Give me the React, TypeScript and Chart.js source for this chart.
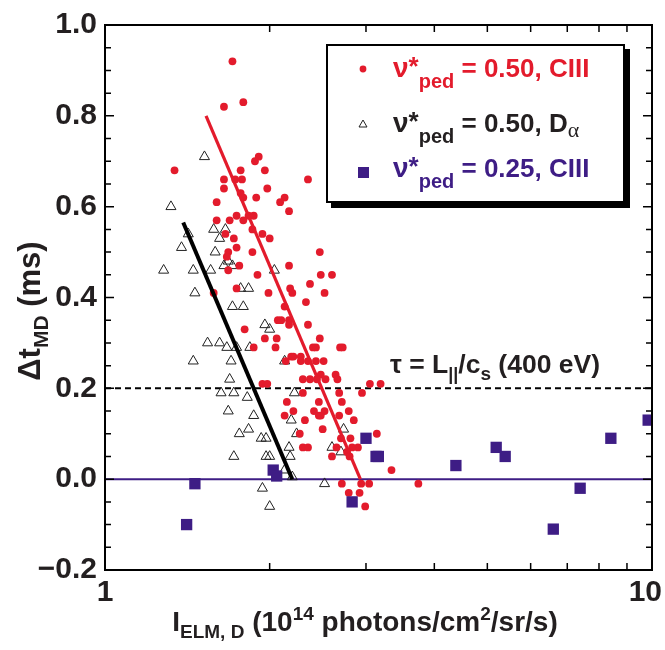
import React, { useEffect, useRef } from 'react';
import { Chart, registerables } from 'chart.js';

Chart.register(...registerables);

const FONT = "'Liberation Sans', Arial, Helvetica, sans-serif";
const RED = '#e31b2c';
const PURPLE = '#3e1d85';
const INK = '#231f20';

// axes
const xLabelValues = [1, 10];
const xMinorTicks = [2, 3, 4, 5, 6, 7, 8, 9];
const yMin = -0.2;
const yMax = 1.0;
const yStep = 0.2;
const yMinorStep = 0.05;

// nu*ped = 0.50, CIII (red circles)
const redX = [1.71, 1.79, 1.65, 1.34, 1.91, 1.88, 1.96, 1.77, 1.65, 1.78, 1.73, 1.65, 1.98, 2.35, 1.77, 1.79, 1.89, 2.13, 2.09, 2.17,
  1.60, 1.74, 1.83, 1.87, 1.79, 1.60, 1.69, 1.86, 1.94, 1.66, 1.72, 2.00, 1.74, 1.68, 1.86, 2.47, 1.67, 1.76, 1.68, 2.17,
  1.90, 2.48, 2.60, 2.37, 2.18, 1.74, 1.99, 2.20, 2.52, 1.58, 2.33, 2.13, 2.07, 2.10, 2.17, 2.17, 2.35, 1.80, 1.96, 2.06,
  2.47, 1.87, 2.05, 2.40, 2.43, 2.69, 2.72, 2.19, 2.21, 2.28, 2.14, 2.28, 2.35, 2.43, 2.51, 2.48, 2.64, 2.30, 2.37, 2.44,
  2.53, 2.66, 1.94, 1.98, 3.05, 3.19, 2.30, 2.68, 2.95, 2.15, 2.46, 2.71, 2.21, 2.41, 2.52, 2.79, 2.13, 2.46, 2.48, 2.68,
  2.32, 2.85, 2.50, 3.14, 2.27, 2.70, 2.81, 2.30, 2.35, 2.65, 2.90, 2.83, 2.77, 2.80, 2.60, 3.34, 2.71, 2.94, 3.04, 3.74,
  2.79, 2.92, 2.99];
const redY = [0.92, 0.83, 0.82, 0.68, 0.71, 0.70, 0.68, 0.68, 0.66, 0.66, 0.66, 0.64, 0.64, 0.66, 0.63, 0.62, 0.62, 0.62, 0.61, 0.59,
  0.61, 0.58, 0.58, 0.58, 0.57, 0.57, 0.57, 0.55, 0.54, 0.54, 0.53, 0.53, 0.51, 0.50, 0.50, 0.50, 0.49, 0.47, 0.46, 0.47,
  0.45, 0.45, 0.45, 0.43, 0.42, 0.42, 0.41, 0.41, 0.41, 0.41, 0.39, 0.38, 0.35, 0.35, 0.35, 0.34, 0.34, 0.33, 0.31, 0.31,
  0.31, 0.29, 0.29, 0.29, 0.29, 0.29, 0.29, 0.27, 0.27, 0.27, 0.26, 0.26, 0.26, 0.26, 0.26, 0.23, 0.23, 0.22, 0.22, 0.22,
  0.22, 0.22, 0.21, 0.21, 0.21, 0.21, 0.19, 0.19, 0.19, 0.17, 0.17, 0.17, 0.15, 0.15, 0.15, 0.15, 0.14, 0.14, 0.14, 0.14,
  0.13, 0.13, 0.11, 0.10, 0.10, 0.09, 0.09, 0.07, 0.07, 0.07, 0.07, 0.07, 0.06, 0.05, 0.05, 0.02, -0.01, -0.01, -0.01, -0.01,
  -0.03, -0.03, -0.06];

// nu*ped = 0.50, D-alpha (open triangles)
const triX = [1.52, 1.32, 1.58, 1.66, 1.42, 1.62, 1.38, 1.59, 1.68, 1.65, 1.71, 1.28, 1.45, 1.56, 2.04, 1.77, 1.83, 1.46, 1.71, 1.79,
  1.96, 2.00, 1.54, 1.62, 1.67, 1.74, 1.84, 1.45, 1.70, 2.13, 1.69, 1.63, 1.72, 2.22, 1.82, 1.68, 1.87, 2.19, 1.83, 2.73,
  1.76, 2.24, 1.93, 1.97, 2.17, 2.60, 2.70, 1.72, 1.97, 2.00, 2.18, 2.13, 2.20, 2.52, 1.94, 2.00];
const triY = [0.71, 0.60, 0.55, 0.55, 0.54, 0.53, 0.51, 0.50, 0.48, 0.47, 0.47, 0.46, 0.46, 0.46, 0.46, 0.42, 0.42, 0.41, 0.38, 0.38,
  0.34, 0.33, 0.30, 0.30, 0.29, 0.29, 0.29, 0.26, 0.26, 0.26, 0.22, 0.19, 0.19, 0.19, 0.18, 0.15, 0.14, 0.13, 0.11, 0.11,
  0.10, 0.10, 0.09, 0.09, 0.07, 0.07, 0.06, 0.05, 0.05, 0.05, 0.05, 0.02, 0.005, -0.01, -0.02, -0.06];

// nu*ped = 0.25, CIII (purple squares)
const sqX = [1.41, 1.46, 2.03, 2.06, 3.00, 3.13, 3.16, 2.83, 4.38, 5.19, 5.39, 6.60, 7.39, 8.41, 9.84];
const sqY = [-0.10, -0.01, 0.02, 0.007, 0.09, 0.05, 0.05, -0.05, 0.03, 0.07, 0.05, -0.11, -0.02, 0.09, 0.13];

// fit lines and reference levels
const redFitX = [1.53, 2.93];
const redFitY = [0.80, 0.0];
const blackFitX = [1.39, 2.2];
const blackFitY = [0.565, 0.0];
const refX = [1, 10];
const tauLevel = 0.2;
const zeroLevel = 0.0;

const pts = (xs: number[], ys: number[]) => xs.map((x, i) => ({ x, y: ys[i] }));

const framePlugin = {
  id: 'frameTicks',
  afterDatasetsDraw(chart: any) {
    const { ctx, chartArea: a, scales } = chart;
    const xs = scales.x;
    const ys = scales.y;
    ctx.save();
    ctx.strokeStyle = '#000';
    ctx.lineWidth = 2;
    ctx.strokeRect(a.left, a.top, a.right - a.left, a.bottom - a.top);
    ctx.lineWidth = 1.5;
    ctx.beginPath();
    const n = Math.round((yMax - yMin) / yMinorStep);
    const per = Math.round(yStep / yMinorStep);
    for (let k = 0; k <= n; k++) {
      const py = ys.getPixelForValue(yMin + k * yMinorStep);
      const len = k % per === 0 ? 9 : 6;
      ctx.moveTo(a.left, py);
      ctx.lineTo(a.left + len, py);
      ctx.moveTo(a.right, py);
      ctx.lineTo(a.right - len, py);
    }
    for (const v of xMinorTicks) {
      const px = xs.getPixelForValue(v);
      ctx.moveTo(px, a.bottom);
      ctx.lineTo(px, a.bottom - 7);
      ctx.moveTo(px, a.top);
      ctx.lineTo(px, a.top + 7);
    }
    ctx.stroke();

    // x tick labels (kept inside the canvas at the right edge)
    ctx.fillStyle = INK;
    ctx.font = `bold 30px ${FONT}`;
    ctx.textAlign = 'center';
    ctx.textBaseline = 'alphabetic';
    for (const v of xLabelValues) {
      const label = String(v);
      const w = ctx.measureText(label).width;
      let px = xs.getPixelForValue(v);
      px = Math.min(px, chart.width - 3 - w / 2);
      ctx.fillText(label, px, a.bottom + 31);
    }
    ctx.restore();
  },
};

const sub = (text: string, size: number, dy: number) => (
  <span style={{ position: 'relative', top: dy, fontSize: size, lineHeight: 0 }}>{text}</span>
);

function LegendText({ color, baseline, value, line }: { color: string; baseline: number; value: string; line: string }) {
  return (
    <div
      style={{
        position: 'absolute', left: 393, top: baseline - 22, color, fontFamily: FONT, fontWeight: 'bold',
        fontSize: 26, lineHeight: '26px', whiteSpace: 'nowrap',
      }}
    >
      <span style={{ fontSize: 28 }}>ν</span><span style={{ position: 'relative', top: -2 }}>*</span>
      {sub('ped', 20, 11)}
      {` = ${value}, `}
      {line}
    </div>
  );
}

export default function App() {
  const ref = useRef<HTMLCanvasElement>(null);

  useEffect(() => {
    const tickFont = { family: FONT, size: 30, weight: 'bold' as const };
    const chart = new Chart(ref.current as HTMLCanvasElement, {
      type: 'scatter',
      data: {
        datasets: [
          { label: 'red fit', data: pts(redFitX, redFitY), showLine: true, borderColor: RED, borderWidth: 3.2, pointRadius: 0, order: 0 } as any,
          { label: 'black fit', data: pts(blackFitX, blackFitY), showLine: true, borderColor: '#000', borderWidth: 4, pointRadius: 0, order: 1 },
          { label: 'ν*ped = 0.25, CIII', data: pts(sqX, sqY), pointStyle: 'rect', pointRadius: 8, backgroundColor: PURPLE, borderColor: PURPLE, borderWidth: 0, order: 2 },
          { label: 'ν*ped = 0.50, CIII', data: pts(redX, redY), pointStyle: 'circle', pointRadius: 3.9, backgroundColor: RED, borderColor: RED, borderWidth: 0, order: 3 },
          { label: 'ν*ped = 0.50, Dα', data: pts(triX, triY), pointStyle: 'triangle', pointRadius: 5.8, backgroundColor: 'rgba(255,255,255,0)', borderColor: '#222', borderWidth: 1, order: 4 },
          { label: 'tau', data: refX.map((x) => ({ x, y: tauLevel })), showLine: true, borderColor: '#000', borderWidth: 2, borderDash: [6, 4], pointRadius: 0, order: 5 },
          { label: 'zero', data: refX.map((x) => ({ x, y: zeroLevel })), showLine: true, borderColor: PURPLE, borderWidth: 2, pointRadius: 0, order: 6 },
        ],
      },
      options: {
        responsive: false,
        animation: false,
        devicePixelRatio: 1,
        layout: { padding: { top: 25, right: 13, bottom: 0, left: 0 } },
        plugins: { legend: { display: false }, tooltip: { enabled: false } },
        scales: {
          x: {
            type: 'logarithmic',
            min: 1,
            max: 10,
            grid: { display: false, drawTicks: false },
            border: { display: false },
            ticks: { display: false },
            afterFit: (s: any) => {
              s.height = 80;
              s.paddingLeft = 0;
              s.paddingRight = 0;
            },
          },
          y: {
            min: yMin,
            max: yMax,
            grid: { display: false, drawTicks: false },
            border: { display: false },
            ticks: {
              stepSize: yStep,
              padding: 8,
              color: INK,
              font: tickFont,
              callback: (v: any) => {
                const r = Math.round(Number(v) * 10) / 10;
                return r < 0 ? '−' + Math.abs(r).toFixed(1) : r.toFixed(1);
              },
            },
            afterFit: (s: any) => {
              s.width = 105;
              s.paddingTop = 0;
              s.paddingBottom = 0;
            },
          },
        },
      },
      plugins: [framePlugin],
    } as any);
    return () => chart.destroy();
  }, []);

  return (
    <div style={{ position: 'fixed', left: 0, top: 0, width: 665, height: 650, background: '#fff', overflow: 'hidden' }}>
      <canvas ref={ref} width={665} height={650} style={{ position: 'absolute', left: 0, top: 0, display: 'block' }} />

      {/* legend box */}
      <div
        style={{
          position: 'absolute', left: 326, top: 44, width: 299, height: 159, boxSizing: 'border-box',
          border: '2px solid #000', boxShadow: '5px 5px 0 #000', background: '#fff',
        }}
      />
      <svg width={665} height={650} style={{ position: 'absolute', left: 0, top: 0 }}>
        <circle cx={363} cy={69} r={3.4} fill={RED} />
        <polygon points="359,127 367,127 363,120" fill="none" stroke="#222" strokeWidth={1} />
        <rect x={358} y={167} width={11} height={11} fill={PURPLE} />
      </svg>
      <LegendText color={RED} baseline={77} value="0.50" line="CIII" />
      <div
        style={{
          position: 'absolute', left: 393, top: 132 - 22, color: INK, fontFamily: FONT, fontWeight: 'bold',
          fontSize: 26, lineHeight: '26px', whiteSpace: 'nowrap',
        }}
      >
        <span style={{ fontSize: 28 }}>ν</span><span style={{ position: 'relative', top: -2 }}>*</span>
        {sub('ped', 20, 11)}
        {' = 0.50, D'}
        <span style={{ position: 'relative', top: 5, fontSize: 22, lineHeight: 0, fontFamily: "'Liberation Serif', serif", fontWeight: 'normal' }}>α</span>
      </div>
      <LegendText color={PURPLE} baseline={177} value="0.25" line="CIII" />

      {/* tau annotation */}
      <div
        style={{
          position: 'absolute', left: 390, top: 373 - 22, color: INK, fontFamily: FONT, fontWeight: 'bold',
          fontSize: 26.5, lineHeight: '26px', whiteSpace: 'nowrap',
        }}
      >
        τ = L{sub('||', 18, 7)}/c{sub('s', 19, 7)} (400 eV)
      </div>

      {/* x title */}
      <div
        style={{
          position: 'absolute', left: 365, top: 632 - 24, transform: 'translateX(-50%)', color: INK, fontFamily: FONT,
          fontWeight: 'bold', fontSize: 28, lineHeight: '28px', whiteSpace: 'nowrap',
        }}
      >
        I{sub('ELM, D', 19, 7)} (10{sub('14', 19, -11)} photons/cm{sub('2', 19, -11)}/sr/s)
      </div>

      {/* y title */}
      <div
        style={{
          position: 'absolute', left: 29, top: 311, transform: 'translate(-50%, -50%) rotate(-90deg)', color: INK,
          fontFamily: FONT, fontWeight: 'bold', fontSize: 31, lineHeight: '31px', whiteSpace: 'nowrap',
        }}
      >
        Δt{sub('MD', 21, 8)} (ms)
      </div>
    </div>
  );
}
